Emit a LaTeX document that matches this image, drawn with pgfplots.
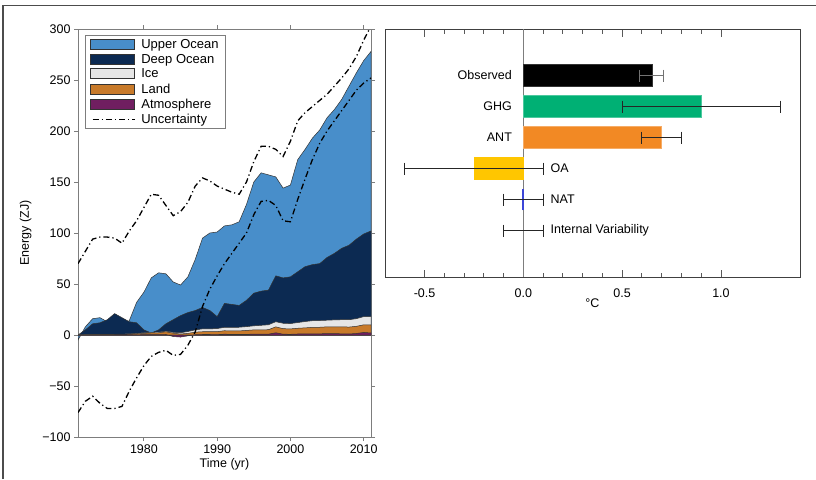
\documentclass[border=0pt]{standalone}
\usepackage{fontspec}
\setmainfont{Liberation Sans}
\usepackage{pgfplots}
\usepackage{pgfplotstable}
\pgfplotsset{compat=1.18}
\definecolor{upper}{RGB}{72,142,202}
\definecolor{deep}{RGB}{12,42,82}
\definecolor{ice}{RGB}{230,230,230}
\definecolor{land}{RGB}{200,122,42}
\definecolor{atmos}{RGB}{112,30,96}
\definecolor{ghg}{RGB}{0,176,116}
\definecolor{ant}{RGB}{242,137,36}
\definecolor{oa}{RGB}{255,198,0}
\definecolor{natblue}{RGB}{60,70,215}
\definecolor{axgray}{RGB}{125,125,125}
\pgfplotsset{
  patchleg/.style={legend image code/.code={\draw[##1] (2pt,-4.5pt) rectangle (46pt,5.5pt);}},
  lineleg/.style={legend image code/.code={\draw[##1] (4pt,0.5pt) -- (46pt,0.5pt);}},
}

\pgfplotstableread{
year upper deep ice land atm
1971 -5 0 0 0 0
1972 8 5 0.3 0.2 0
1973 16 11 0.4 0.3 0
1974 17 12 0.5 0.3 0
1975 13 15 0.6 0.4 0
1976 12 21 0.7 0.5 0
1977 11 17 0.9 0.6 0.1
1978 14 13 1.1 0.8 0.1
1979 32 12 1.6 1.2 0.2
1980 42 5 2.2 1.6 0.3
1981 56 2 2.6 2.0 0.3
1982 61 5 2.8 2.2 0.4
1983 60 11 3.8 3.2 0.5
1984 52 15 2.6 1.8 -1.5
1985 49 19 2.2 1.0 -2.0
1986 57 22 3.4 1.6 -0.8
1987 74 24 5.0 2.8 0.3
1988 95 27 6.0 3.2 0.5
1989 100 24 6.0 3.2 0.5
1990 101 18 6.3 3.3 0.4
1991 107 31 7.5 4.2 0.8
1992 108 30 7.5 4.0 0.6
1993 111 29 7.6 4.0 0.5
1994 128 34 8.2 4.5 0.7
1995 150 41 9.0 5.0 0.8
1996 159 43 9.5 5.0 0.8
1997 157 44 10.0 5.2 0.8
1998 155 58 13.0 8.0 2.2
1999 144 56 11.5 6.2 0.8
2000 147 57 11.2 6.0 0.7
2001 172 62 12.2 6.6 1.0
2002 182 67 13.2 7.0 1.2
2003 193 69 14.0 7.5 1.2
2004 201 70 14.2 7.6 1.2
2005 213 76 14.5 8.0 1.3
2006 221 80 14.8 8.0 1.3
2007 231 85 15.0 8.0 1.2
2008 244 88 15.0 7.8 1.0
2009 257 94 16.0 8.5 1.5
2010 269 99 18.0 10.0 2.5
2011 278 102 18.0 10.0 2.0
}\energy

\pgfplotstableread{
year hi lo
1971 70 -76
1972 82 -65
1973 94 -60
1974 96 -67
1975 96 -72
1976 95 -72
1977 90 -70
1978 102 -55
1979 112 -42
1980 125 -30
1981 138 -21
1982 137 -17
1983 127 -15
1984 117 -20
1985 121 -19
1986 130 -10
1987 146 3
1988 154 28
1989 151 45
1990 146 58
1991 143 70
1992 140 80
1993 138 90
1994 150 100
1995 170 118
1996 185 131
1997 185 132
1998 182 127
1999 175 112
2000 190 111
2001 210 133
2002 218 153
2003 224 172
2004 230 188
2005 236 200
2006 244 210
2007 252 220
2008 261 230
2009 273 240
2010 289 247
2011 303 252
}\unc

\begin{document}
\begin{tikzpicture}[font=\fontsize{12.5}{15}\selectfont]
\path[use as bounding box] (0pt,0pt) rectangle (816pt,-479pt);
\draw[black!70, line width=1.5pt] (3pt,-479pt) -- (3pt,-5.5pt) -- (816pt,-5.5pt);

% ---------------- left panel ----------------
\begin{axis}[
  at={(78pt,-437pt)}, anchor=south west,
  scale only axis, width=293pt, height=408pt,
  xmin=1971, xmax=2011, ymin=-100, ymax=300,
  xtick={1980,1990,2000,2010},
  xticklabels={1980,1990,2000,2010},
  ytick={-100,-50,0,50,100,150,200,250,300},
  yticklabels={−100,−50,0,50,100,150,200,250,300},
  tick align=outside, major tick length=4pt,
  axis line style={axgray, line width=0.9pt},
  tick style={axgray, line width=0.9pt},
  xlabel={Time (yr)}, ylabel={Energy (ZJ)},
  xlabel style={yshift=2pt},
  ylabel style={yshift=4pt},
  legend style={at={(0.024,0.985)}, anchor=north west, draw=axgray,
    line width=0.8pt, font=\fontsize{13}{14}\selectfont,
    inner xsep=5pt, inner ysep=1.5pt, row sep=0.4pt, cells={anchor=west},
    /tikz/every odd column/.append style={column sep=4pt}},
  legend cell align=left,
]
\addplot[fill=upper, draw=black!80, line width=0.5pt, patchleg]
  table[x=year,y=upper]{\energy} \closedcycle;
\addlegendentry{Upper Ocean}
\addplot[fill=deep, draw=black!80, line width=0.5pt, patchleg]
  table[x=year,y=deep]{\energy} \closedcycle;
\addlegendentry{Deep Ocean}
\addplot[fill=ice, draw=black!80, line width=0.5pt, patchleg]
  table[x=year,y=ice]{\energy} \closedcycle;
\addlegendentry{Ice}
\addplot[fill=land, draw=black!80, line width=0.5pt, patchleg]
  table[x=year,y=land]{\energy} \closedcycle;
\addlegendentry{Land}
\addplot[fill=atmos, draw=black!80, line width=0.5pt, patchleg]
  table[x=year,y=atm]{\energy} \closedcycle;
\addlegendentry{Atmosphere}
\addplot[black, line width=1.3pt, dash pattern=on 6pt off 3pt on 1.2pt off 3pt, lineleg]
  table[x=year,y=hi]{\unc};
\addlegendentry{Uncertainty}
\addplot[black, line width=1.3pt, dash pattern=on 6pt off 3pt on 1.2pt off 3pt, forget plot]
  table[x=year,y=lo]{\unc};
\end{axis}

% ---------------- right panel ----------------
\begin{axis}[
  at={(385pt,-277pt)}, anchor=south west,
  scale only axis, width=415pt, height=248pt,
  xmin=-0.7, xmax=1.4, ymin=-0.5, ymax=7.5,
  ytick=\empty,
  xtick={-0.5,0,0.5,1},
  xticklabels={-0.5,0.0,0.5,1.0},
  minor x tick num=4,
  tick align=inside, xtick pos=both,
  major tick length=7.5pt, minor tick length=4.5pt,
  axis line style={black!75, line width=1pt},
  tick style={black!65, line width=0.9pt},
  xticklabel style={yshift=-8pt},
  xlabel={°C},
  xlabel style={yshift=5pt},
]
\addplot[axgray, line width=1pt] coordinates {(0,-0.5) (0,7.5)};
\addplot[xbar, bar width=0.7, bar shift=0pt, fill=black, draw=black!80] coordinates {(0.65,6)};
\addplot[xbar, bar width=0.7, bar shift=0pt, fill=ghg, draw=ghg!70!white] coordinates {(0.9,5)};
\addplot[xbar, bar width=0.7, bar shift=0pt, fill=ant, draw=ant!70!white] coordinates {(0.7,4)};
\addplot[xbar, bar width=0.7, bar shift=0pt, fill=oa, draw=oa] coordinates {(-0.25,3)};
% NAT: essentially zero, drawn as a thin blue bar
\addplot[natblue, line width=2pt, mark=none] coordinates {(0.0,1.65) (0.0,2.35)};
% error bars
\addplot[black!55, line width=1pt, mark=|, mark size=6pt] coordinates {(0.59,6) (0.71,6)};
\addplot[black!85, line width=1pt, mark=|, mark size=6pt] coordinates {(0.5,5) (1.3,5)};
\addplot[black!85, line width=1pt, mark=|, mark size=6pt] coordinates {(0.6,4) (0.8,4)};
\addplot[black!85, line width=1pt, mark=|, mark size=6pt] coordinates {(-0.6,3) (0.1,3)};
\addplot[black!85, line width=1pt, mark=|, mark size=6pt] coordinates {(-0.1,2) (0.1,2)};
\addplot[black!85, line width=1pt, mark=|, mark size=6pt] coordinates {(-0.1,1) (0.1,1)};
\node[anchor=east] at (axis cs:-0.04,6) {Observed};
\node[anchor=east] at (axis cs:-0.04,5) {GHG};
\node[anchor=east] at (axis cs:-0.04,4) {ANT};
\node[anchor=west] at (axis cs:0.12,3) {OA};
\node[anchor=west] at (axis cs:0.12,2) {NAT};
\node[anchor=west] at (axis cs:0.12,1) {Internal Variability};
\end{axis}
\end{tikzpicture}
\end{document}
